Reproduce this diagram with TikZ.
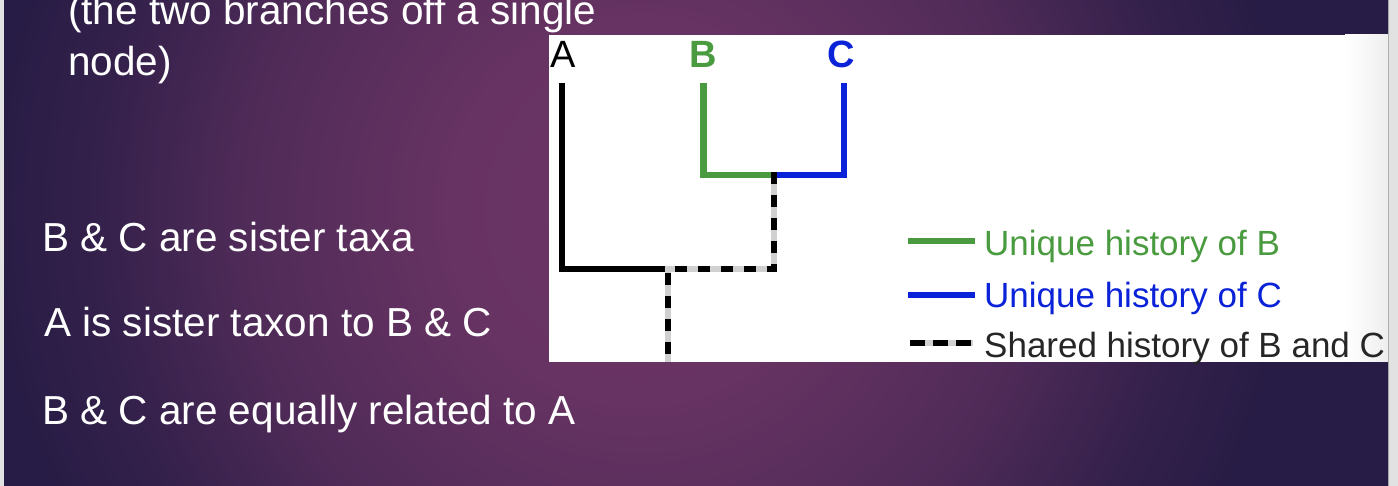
\documentclass[tikz,border=0pt]{standalone}
\usepackage{fontspec}
\setmainfont{Liberation Sans}
\definecolor{bgin}{HTML}{6C3565}
\definecolor{bgout}{HTML}{271C45}
\definecolor{treegreen}{HTML}{4A9B40}
\definecolor{treeblue}{HTML}{0A22D8}
\definecolor{dashgray}{HTML}{D0D0D0}
\definecolor{stripgray}{HTML}{E2E2E2}
\definecolor{panelfade}{HTML}{EEEEEE}
\pgfdeclareradialshading{slidebg}{\pgfpoint{0bp}{0bp}}{%
  color(0bp)=(bgin);
  color(3.5bp)=(bgin!93!bgout);
  color(7.5bp)=(bgin!60!bgout);
  color(10.5bp)=(bgin!18!bgout);
  color(12.5bp)=(bgout);
  color(50bp)=(bgout)}
\begin{document}
\begin{tikzpicture}[x=1pt,y=-1pt,
  slidetext/.style={anchor=base west, inner sep=0pt, text=white, font=\fontsize{40.5}{48}\selectfont},
  leaflabel/.style={anchor=base, inner sep=0pt, font=\fontsize{38}{44}\selectfont},
  legendtext/.style={anchor=base west, inner sep=0pt, font=\fontsize{35}{42}\selectfont},
  branch/.style={line width=6.5pt, line join=miter},
  shared/.style={line width=6.5pt, draw=dashgray, postaction={draw=black, dash pattern=on 12pt off 11pt}},
  legendline/.style={line width=6pt},
  legendshared/.style={line width=6pt, draw=dashgray, postaction={draw=black, dash pattern=on 15pt off 8pt}}]
\useasboundingbox (0,0) rectangle (1398,486);
% background
\fill[bgout] (0,0) rectangle (1398,486);
\begin{scope}
  \clip (0,0) rectangle (1398,486);
  \shade[shading=slidebg] (640,210) circle (1300);
\end{scope}
\fill[stripgray] (0,0) rectangle (4,486);
\fill[stripgray] (1388,0) rectangle (1398,486);
\draw[gray!70, line width=1pt] (1388,0) -- (1388,486);
% white panel
\fill[white] (549,35) rectangle (1388,362);
\shade[left color=white, right color=panelfade] (1345,35) rectangle (1388,362);
% left texts
\node[slidetext] (t1) at (68,25) {(the two branches off a single};
\node[slidetext] (t2) at (68,76) {node)};
\node[slidetext] (t3) at (42,252) {B \& C are sister taxa};
\node[slidetext] (t4) at (44,337) {A is sister taxon to B \& C};
\node[slidetext] (t5) at (42,424) {B \& C are equally related to A};
% tree labels
\node[leaflabel, text=black] (A) at (563,68) {A};
\node[leaflabel, text=treegreen, font=\fontsize{38}{44}\selectfont\bfseries] (B) at (703.5,68) {B};
\node[leaflabel, text=treeblue, font=\fontsize{38}{44}\selectfont\bfseries] (C) at (841.5,68) {C};
% tree coordinates
\coordinate (tA) at (562,83);
\coordinate (tB) at (703.5,83);
\coordinate (tC) at (844,83);
\coordinate (nBC) at (774,175);
\coordinate (dTop) at (774,172);
\coordinate (dBend) at (774,269);
\coordinate (nRoot) at (668,269);
\coordinate (rootEnd) at (668,362);
% branches
\draw[branch, black] (tA) |- (nRoot);
\draw[branch, treegreen] (tB) |- (nBC);
\draw[branch, treeblue] (tC) |- (nBC);
\draw[shared] (dTop) -- (dBend) -- (nRoot) -- (rootEnd);
% legend
\coordinate (l1a) at (908,241.5); \coordinate (l1b) at (975,241.5);
\coordinate (l2a) at (908,295); \coordinate (l2b) at (975,295);
\coordinate (l3a) at (910,343.5); \coordinate (l3b) at (973,343.5);
\draw[legendline, treegreen] (l1a) -- (l1b);
\draw[legendline, treeblue] (l2a) -- (l2b);
\draw[legendshared] (l3a) -- (l3b);
\node[legendtext, text=treegreen] (g1) at (984,256) {Unique history of B};
\node[legendtext, text=treeblue] (g2) at (984,308) {Unique history of C};
\node[legendtext, text=black!85] (g3) at (984,357) {Shared history of B and C};
\end{tikzpicture}
\end{document}
